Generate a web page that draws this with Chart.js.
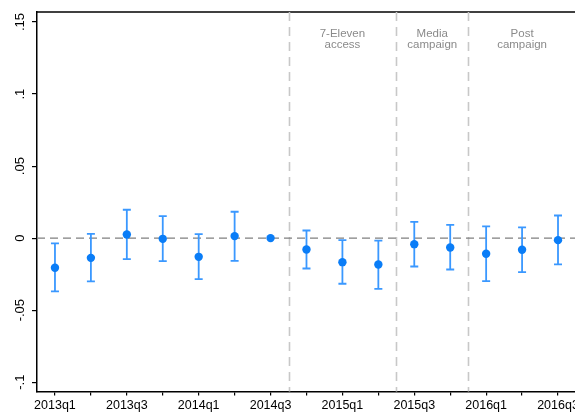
<!DOCTYPE html>
<html>
<head>
<meta charset="utf-8">
<script src="https://cdn.jsdelivr.net/npm/chart.js@4/dist/chart.umd.min.js"></script>
<style>
html,body{margin:0;padding:0;overflow:hidden;background:#fff;}
#wrap{width:582px;height:413px;position:relative;}
canvas{display:block;}
</style>
</head>
<body>
<div id="wrap"><canvas id="c" width="582" height="413" style="width:582px;height:413px"></canvas></div>
<script>
const categories = ["2013q1","2013q2","2013q3","2013q4","2014q1","2014q2","2014q3","2014q4","2015q1","2015q2","2015q3","2015q4","2016q1","2016q2","2016q3"];
const estimates = [-0.0206,-0.0137,0.0025,-0.0005,-0.0130,0.0014,0.0000,-0.0079,-0.0167,-0.0183,-0.0042,-0.0065,-0.0109,-0.0081,-0.0014];
const ciUpper   = [-0.0037,0.0030,0.0197,0.0153,0.0028,0.0183,null,0.0053,-0.0014,-0.0017,0.0113,0.0092,0.0081,0.0074,0.0157];
const ciLower   = [-0.0370,-0.0300,-0.0146,-0.0160,-0.0285,-0.0158,null,-0.0211,-0.0317,-0.0352,-0.0197,-0.0218,-0.0299,-0.0236,-0.0183];
const yTicks = [-0.1,-0.05,0,0.05,0.1,0.15];
const yTickLabels = ["-.1","-.05","0",".05",".1",".15"];
const periodBreaks = [6.5, 9.5, 11.5];
const periodLabels = [["7-Eleven","access"],["Media","campaign"],["Post","campaign"]];
const periodCenters = [8, 10.5, 13];

const FONT = "'Liberation Sans', Arial, Helvetica, sans-serif";

const overlay = {
  id: 'overlay',
  afterDraw(chart) {
    const ctx = chart.ctx, ys = chart.scales.y;
    ctx.save();
    ctx.fillStyle = '#000'; ctx.font = '13px ' + FONT; ctx.textAlign = 'center'; ctx.textBaseline = 'middle';
    yTicks.forEach((v, i) => {
      const y = ys.getPixelForValue(v);
      ctx.save(); ctx.translate(20, y); ctx.rotate(-Math.PI / 2);
      ctx.fillText(yTickLabels[i], 0, 0);
      ctx.restore();
    });
    ctx.restore();
  },
  beforeDatasetsDraw(chart) {
    const ctx = chart.ctx, xs = chart.scales.x, ys = chart.scales.y, a = chart.chartArea;
    ctx.save();
    ctx.strokeStyle = '#000'; ctx.lineWidth = 1.3; ctx.setLineDash([]);
    ctx.beginPath(); ctx.moveTo(a.left, a.top); ctx.lineTo(a.right, a.top); ctx.stroke();
    ctx.strokeStyle = '#c8c8c8'; ctx.lineWidth = 1.6; ctx.setLineDash([9,6]);
    periodBreaks.forEach(b => {
      const x = Math.round(xs.getPixelForValue(b)) + 0.5;
      ctx.beginPath(); ctx.moveTo(x, a.top); ctx.lineTo(x, a.bottom); ctx.stroke();
    });
    const y0 = ys.getPixelForValue(0);
    ctx.strokeStyle = '#808080'; ctx.lineWidth = 1.2; ctx.setLineDash([8,5]);
    ctx.beginPath(); ctx.moveTo(a.left, y0); ctx.lineTo(a.right, y0); ctx.stroke();
    ctx.setLineDash([]);
    ctx.fillStyle = '#8a8a8a'; ctx.font = '11.5px ' + FONT; ctx.textAlign = 'center'; ctx.textBaseline = 'middle';
    periodLabels.forEach((lines, i) => {
      const x = xs.getPixelForValue(periodCenters[i]);
      lines.forEach((t, j) => ctx.fillText(t, x, 33.5 + j * 11.5));
    });
    ctx.strokeStyle = '#3a98ff'; ctx.lineWidth = 1.8;
    categories.forEach((c, i) => {
      if (ciUpper[i] == null || ciLower[i] == null) return;
      const x = xs.getPixelForValue(i);
      const yu = ys.getPixelForValue(ciUpper[i]), yl = ys.getPixelForValue(ciLower[i]);
      ctx.beginPath();
      ctx.moveTo(x, yu); ctx.lineTo(x, yl);
      ctx.moveTo(x - 4, yu); ctx.lineTo(x + 4, yu);
      ctx.moveTo(x - 4, yl); ctx.lineTo(x + 4, yl);
      ctx.stroke();
    });
    ctx.restore();
  }
};

new Chart(document.getElementById('c'), {
  type: 'scatter',
  data: {
    datasets: [{
      data: estimates.map((v, i) => ({x: i, y: v})),
      backgroundColor: '#0a7df7',
      borderColor: '#0a7df7',
      pointRadius: 4.2,
      pointHoverRadius: 4.2,
      borderWidth: 0
    }]
  },
  options: {
    responsive: false,
    maintainAspectRatio: false,
    devicePixelRatio: 1,
    animation: false,
    layout: {padding: {top: 12, left: 0, right: 0, bottom: 0}},
    plugins: {legend: {display: false}, tooltip: {enabled: false}},
    scales: {
      x: {
        type: 'linear', min: -0.5, max: 14.5,
        afterBuildTicks: s => { s.ticks = categories.map((c, i) => ({value: i})); },
        afterFit: s => { s.height = 21.5; },
        grid: {display: true, drawOnChartArea: false, drawTicks: true, tickLength: 4, color: '#000', lineWidth: 1.2},
        border: {display: true, color: '#000', width: 1.5},
        ticks: {
          autoSkip: false, maxRotation: 0, minRotation: 0, padding: 3,
          color: '#000', font: {family: FONT, size: 12.5},
          callback: (v) => (Number.isInteger(v) && v % 2 === 0) ? categories[v] : ''
        }
      },
      y: {
        min: -0.1065, max: 0.157,
        afterBuildTicks: s => { s.ticks = yTicks.map(v => ({value: v})); },
        afterFit: s => { s.width = 37; },
        grid: {display: true, drawOnChartArea: false, drawTicks: true, tickLength: 5, color: '#000', lineWidth: 1.2},
        border: {display: true, color: '#000', width: 1.5},
        ticks: { display: false }
      }
    }
  },
  plugins: [overlay]
});
</script>
</body>
</html>
